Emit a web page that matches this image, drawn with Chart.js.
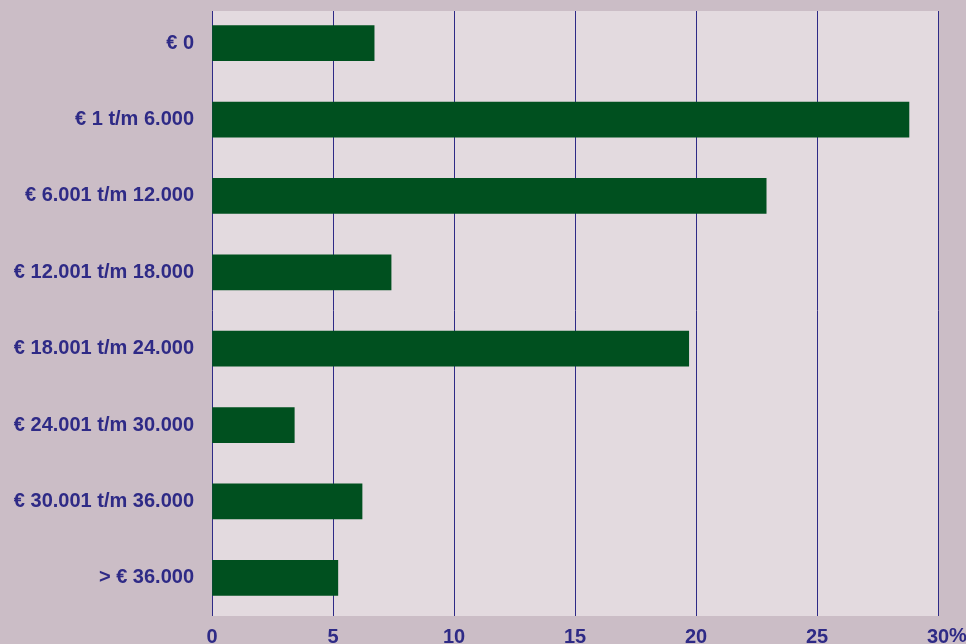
<!DOCTYPE html>
<html>
<head>
<meta charset="utf-8">
<script src="https://cdn.jsdelivr.net/npm/chart.js@4"></script>
<style>
  html,body{margin:0;padding:0;background:#cbbdc6;overflow:hidden;}
  #wrap{position:relative;width:966px;height:644px;}
</style>
</head>
<body>
<div id="wrap"><canvas id="chart"></canvas></div>
<script>
const categories = [
  '€ 0',
  '€ 1 t/m 6.000',
  '€ 6.001 t/m 12.000',
  '€ 12.001 t/m 18.000',
  '€ 18.001 t/m 24.000',
  '€ 24.001 t/m 30.000',
  '€ 30.001 t/m 36.000',
  '> € 36.000'
];
const shares = [6.7, 28.8, 22.9, 7.4, 19.7, 3.4, 6.2, 5.2];
const xTicks = [0, 5, 10, 15, 20, 25, 30];

const OUTER = '#cbbdc6';
const PLOT = '#e3dadf';
const NAVY = '#2e2a86';
const GREEN = '#00501f';
const FONT = '"Liberation Sans", Arial, sans-serif';

// plot background starts a little below the category band
const plotBg = {
  id:'plotBg',
  beforeDraw(chart){
    const {ctx, chartArea:a} = chart;
    ctx.save();
    ctx.fillStyle = PLOT;
    ctx.fillRect(a.left, a.top + 6, a.right - a.left, a.bottom - a.top - 6);
    ctx.restore();
  },
  beforeDatasetsDraw(chart){
    const {ctx, chartArea:a} = chart;
    ctx.save();
    ctx.fillStyle = OUTER;
    ctx.fillRect(a.left - 2, 0, a.right - a.left + 4, a.top + 6);
    ctx.restore();
  },
  afterDraw(chart){
    // "%" trails the last tick label
    const {ctx} = chart;
    const x = chart.scales.x;
    const last = xTicks[xTicks.length - 1];
    const px = x.getPixelForValue(last);
    ctx.save();
    ctx.font = 'bold 20px ' + FONT;
    ctx.fillStyle = NAVY;
    ctx.textBaseline = 'top';
    ctx.textAlign = 'left';
    const w = ctx.measureText(String(last)).width;
    ctx.fillText('%', px + w / 2, x.top + 10);
    ctx.restore();
  }
};

new Chart(document.getElementById('chart'), {
  type:'bar',
  data:{
    labels:categories,
    datasets:[{
      data:shares,
      backgroundColor:GREEN,
      borderWidth:0,
      barThickness:35
    }]
  },
  options:{
    indexAxis:'y',
    responsive:true,
    maintainAspectRatio:false,
    animation:false,
    layout:{padding:{top:5, right:28, bottom:0, left:0}},
    plugins:{legend:{display:false}, tooltip:{enabled:false}},
    scales:{
      x:{
        min:0,
        max:30,
        afterFit(s){ s.height = 28; s.paddingLeft = 0; s.paddingRight = 0; },
        afterBuildTicks(s){ s.ticks = xTicks.map(v => ({value:v})); },
        border:{display:false},
        grid:{color:NAVY, lineWidth:1, drawTicks:false},
        ticks:{
          color:NAVY,
          padding:9,
          maxRotation:0,
          autoSkip:false,
          font:{family:FONT, size:20, weight:'bold'}
        }
      },
      y:{
        afterFit(s){ s.width = 212; s.paddingTop = 0; s.paddingBottom = 0; },
        border:{display:false},
        grid:{display:false, drawTicks:false},
        ticks:{
          color:NAVY,
          padding:18,
          autoSkip:false,
          font:{family:FONT, size:20, weight:'bold'}
        }
      }
    }
  },
  plugins:[plotBg]
});
</script>
</body>
</html>
